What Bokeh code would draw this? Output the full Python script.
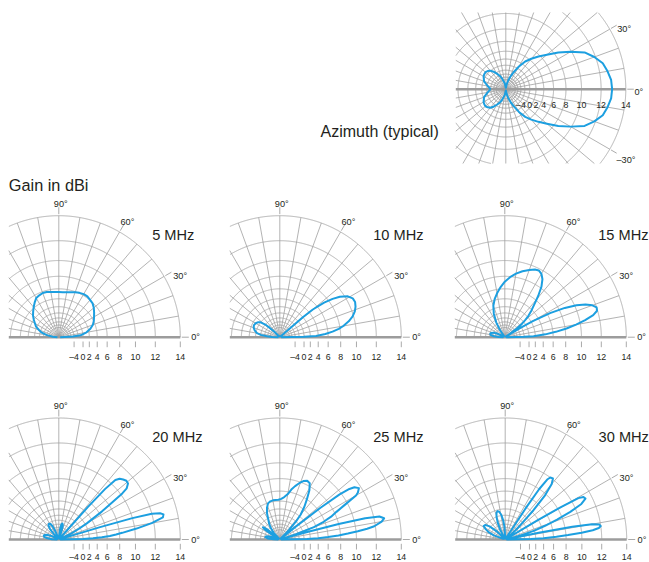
import numpy as np
from bokeh.plotting import figure
from bokeh.models import Range1d
from bokeh.core.properties import value
from bokeh.embed import file_html
from bokeh.resources import INLINE

# ---------------- data (gain in dBi) ----------------
panel_titles = ["5 MHz", "10 MHz", "15 MHz", "20 MHz", "25 MHz", "30 MHz"]

# elevation angle in degrees: 0 = horizon (main direction), 90 = zenith, 180 = back horizon
el_5_angle = [0, 2.5, 5, 10, 15, 20, 25, 30, 35, 40, 45, 50, 55, 60, 65, 70, 75, 80, 85, 90,
              95, 100, 105, 110, 115, 120, 125, 130, 135, 140, 145, 150, 155, 160, 165, 170, 175, 180]
el_5_gain = [-25, -4.7, -0.9, 1.3, 2.6, 3.5, 4.05, 4.5, 5.0, 5.5, 5.9, 6.05, 6.25, 6.25, 6.1, 5.9, 5.65, 5.5, 5.4, 5.4,
             5.45, 5.55, 5.7, 5.75, 5.6, 5.4, 4.8, 4.15, 3.5, 2.85, 2.0, 1.1, 0.3, -1.2, -2.8, -6.1, -12.1, -25]

el_10_angle = [0, 1, 2, 4, 6, 8, 10, 13, 16, 19, 22, 25, 28, 31, 34, 36, 38, 40, 41, 42,
               133, 135, 137, 139, 142, 146, 150, 155, 160, 165, 170, 173, 176, 178, 180]
el_10_gain = [-25, 0, 3.5, 5.5, 6.8, 7.8, 8.5, 9.3, 9.9, 10.3, 10.55, 10.7, 10.65, 10.3, 9.5, 8.6, 7.3, 5.0, 2.0, -25,
              -25, -10, -5, -2, 0, 0.8, 1.2, 1.4, 1.2, 0.6, -0.4, -2, -5.5, -10, -25]

el_15_angle = [0, 1, 2, 4, 6, 8, 10, 12, 14, 16, 18, 20, 22, 24, 26, 28, 30, 31, 32, 34,
               36, 38, 40, 42, 45, 48, 51, 54, 57, 60, 63, 66, 70, 75, 80, 85, 90, 95, 100, 105,
               110, 115, 120, 124, 127, 150, 154, 158, 163, 167, 171, 175, 178, 180]
el_15_gain = [-25, -2, 1.5, 4.5, 6.5, 8.2, 9.5, 10.6, 11.5, 11.95, 12.0, 11.7, 11.1, 10.2, 8.8, 6.5, 2.5, -3, -25, -12,
              -4, -1, 0.8, 2.3, 3.8, 5.2, 6.8, 8.2, 9.1, 9.6, 9.8, 9.7, 9.4, 9.0, 8.5, 7.9, 7.2, 6.3, 5.3, 4.2,
              2.8, 0.6, -3, -9, -25, -25, -10, -6, -4.5, -4.2, -4.6, -7, -12, -25]

el_20_angle = [0, 1, 2, 3, 4, 5, 6, 8, 10, 12, 13.5, 14.5, 15.5, 16.2, 16.7, 17.2, 24, 26, 28, 30,
               31, 33, 35, 36, 37, 39, 41, 43, 45, 46.5, 47.5, 48.2, 48.8, 70, 72, 74, 77, 80, 83, 85,
               110, 112, 115, 118, 122, 126, 130, 133, 135, 152, 154, 158, 162, 166, 170, 174, 177, 180]
el_20_gain = [-25, 0, 3, 5, 6.5, 7.5, 8.4, 10.2, 11.8, 12.85, 12.95, 12.7, 12.0, 10.0, 5.0, -25, -25, -5, -0.5, 2.5,
              3.7, 6.5, 8.8, 10.2, 10.9, 11.3, 11.35, 11.2, 11.0, 10.6, 9.0, 5.0, -25, -25, -8, -4.5, -3.4, -3.8, -7, -25,
              -25, -9, -4.5, -2.8, -2.3, -2.8, -5, -12, -25, -25, -10, -5.5, -4.2, -3.9, -4.4, -6.5, -11, -25]

el_25_angle = [0, 1, 2, 3, 4, 5, 6, 7, 8, 10, 11.5, 13, 14, 14.7, 15.3, 16, 16.5, 18, 20, 22,
               24, 26, 28, 30, 31, 33, 35, 36, 37, 38, 39, 40, 44, 45, 46, 48, 50, 53, 56, 59,
               62, 65, 68, 71, 74, 77, 80, 84, 88, 92, 96, 100, 104, 108, 112, 116, 120, 124, 128, 132,
               134, 138, 140, 142, 144, 146, 148, 150, 160, 163, 167, 171, 175, 178, 180]
el_25_gain = [-25, 1, 4, 6, 7.7, 9, 10.2, 11.2, 11.9, 12.6, 12.85, 12.5, 11.2, 8, 2, -25, -25, -3, 3.5, 5.8,
              7.3, 8.3, 9.6, 11.2, 11.5, 11.8, 11.5, 11.0, 9.8, 6.5, -2, -25, -25, -10, -5, 0, 2.5, 4.5, 6.0, 7.5,
              8.4, 8.55, 8.3, 7.8, 7.2, 6.5, 5.6, 4.9, 4.5, 4.3, 4.3, 4.3, 4.2, 3.9, 3.0, 1.6, -0.5, -2.1, -4.4, -8.6,
              -25, -25, -8, -3, -1.3, -2.5, -8, -25, -25, -8, -4.8, -4.4, -6, -12, -25]

el_30_angle = [0, 1, 2, 3, 4, 5, 6, 7, 8, 9, 10, 10.8, 11.5, 12.2, 12.5, 14, 15.5, 17, 19, 21,
               23, 25, 27, 28.5, 29.5, 30.2, 30.8, 31.3, 38, 40, 42, 44, 46, 48, 50, 52, 54, 55, 56, 56.7,
               57.3, 90, 93, 96, 99, 102, 105, 108, 111, 114, 117, 119, 133, 136, 140, 144, 148, 152, 156, 160,
               163, 180]
el_30_gain = [-25, 0.5, 4, 6.5, 8.3, 10, 11.2, 11.8, 12.0, 11.9, 11.2, 9, 3, -25, -25, -8, -2, 2, 4.8, 7.2,
              9.3, 10.8, 11.4, 11.3, 10.8, 8.5, 4, -25, -25, -10, -4, -0.5, 4.5, 7.8, 9.5, 10.1, 10.0, 9.6, 8, 4,
              -25, -25, -6, -2, 0.3, 1.3, 1.7, 1.3, 0, -2.5, -7, -25, -25, -6, -1.5, 0.2, 0.4, -0.8, -2.5, -6,
              -25, -25]

# azimuth pattern (degrees, 0 = main direction, positive counter-clockwise)
az_angle = [-180, -170, -160, -150, -145, -140, -135, -130, -125, -120, -115, -110, -100, -90,
            -85, -80, -75, -70, -65, -60, -55, -50, -45, -40, -35, -30, -25, -20, -15, -10, -5,
            0, 5, 10, 15, 20, 25, 30, 35, 40, 45, 50, 55, 60, 65, 70, 75, 80, 85,
            90, 100, 110, 115, 120, 125, 130, 135, 140, 145, 150, 160, 170, 180]
az_gain = [-3.9, -2.3, -0.3, 0.6, 0.8, 0.9, 0.6, 0.1, -1.0, -2.5, -4.0, -6, -12, -25,
           -25, -14, -9, -5, -2, 0.8, 3.0, 4.4, 5.7, 7.0, 8.55, 9.9, 11.2, 11.9, 12.45, 12.7, 12.9,
           12.95, 12.9, 12.7, 12.45, 11.9, 11.2, 9.9, 8.55, 7.0, 5.7, 4.4, 3.0, 0.8, -2, -5, -9, -14, -25,
           -25, -12, -6, -4.0, -2.5, -1.0, 0.1, 0.6, 0.9, 0.8, 0.6, -0.3, -2.3, -3.9]

gain_ticks = [-4, 0, 2, 4, 6, 8, 10, 12, 14]
gain_tick_labels = ["–4", "0", "2", "4", "6", "8", "10", "12", "14"]
grid_circles_db = [-8, -6, -4, -2, 0, 2, 4, 6, 8, 10, 12, 14]
el_angle_labels = ["90°", "60°", "30°", "0°"]
az_angle_labels = ["30°", "0°", "–30°"]
y_title = "Gain in dBi"
az_title = "Azimuth (typical)"

el_series = [(el_5_angle, el_5_gain), (el_10_angle, el_10_gain), (el_15_angle, el_15_gain),
             (el_20_angle, el_20_gain), (el_25_angle, el_25_gain), (el_30_angle, el_30_gain)]

# ---------------- layout & style ----------------
W, H = 649, 562
R_EL, R_AZ = 121.5, 120.0
MAX_DB = 14.0
CLIP_LEFT = 50.0
el_centers = [(58.3, 336.7), (279.3, 336.7), (504.3, 336.7),
              (58.3, 539.0), (279.3, 539.0), (504.7, 539.0)]
az_center = (505.3, 88.7)
AZ_TOP, AZ_BOTTOM = 76.7, 74.3

BLUE = "#1c9fe0"
GRID = "#a0a0a0"
BASE = "#9c9c9c"
TEXT = "#231f20"
FONT = "Liberation Sans"

p = figure(width=W, height=H, x_range=Range1d(0, W), y_range=Range1d(-H, 0),
           output_backend="svg", toolbar_location=None, x_axis_type=None, y_axis_type=None,
           min_border=0)
p.outline_line_color = None
p.grid.visible = False
p.background_fill_color = "white"
p.border_fill_color = "white"


def rad(g, R):
    return R * 10 ** ((np.asarray(g, dtype=float) - MAX_DB) / 20.0)


def runs(x, y, mask):
    out = []
    idx = np.where(mask)[0]
    if len(idx) == 0:
        return out
    splits = np.where(np.diff(idx) > 1)[0] + 1
    for grp in np.split(idx, splits):
        if len(grp) > 1:
            out.append((x[grp].tolist(), y[grp].tolist()))
    return out


grid_xs, grid_ys = [], []
base_xs, base_ys = [], []
tick_xs, tick_ys = [], []


def add_grid(cx, cy, R, th0, th1, dy_max, dy_min, spokes):
    xmin = cx - CLIP_LEFT
    th = np.radians(np.linspace(th0, th1, int((th1 - th0) * 4) + 1))
    for db in grid_circles_db:
        r = float(rad(db, R))
        dx = r * np.cos(th)
        dy = r * np.sin(th)
        mask = (cx + dx >= xmin - 1e-9) & (dy <= dy_max) & (dy >= dy_min)
        for sx, sy in runs(cx + dx, -cy + dy, mask):
            grid_xs.append(sx)
            grid_ys.append(sy)
    for a in spokes:
        c, s_ = np.cos(np.radians(a)), np.sin(np.radians(a))
        rend = R
        if c < -1e-9:
            rend = min(rend, (xmin - cx) / c)
        if s_ > 1e-9:
            rend = min(rend, dy_max / s_)
        if s_ < -1e-9:
            rend = min(rend, dy_min / s_)
        grid_xs.append([cx, cx + rend * c])
        grid_ys.append([-cy, -cy + rend * s_])
    base_xs.append([xmin, cx + R])
    base_ys.append([-cy, -cy])


# elevation panels: grid, baseline, ticks, leaders
for (cx, cy) in el_centers:
    add_grid(cx, cy, R_EL, 0, 180, 1e9, 0, list(range(10, 180, 10)))
    for v in gain_ticks:
        x = cx + float(rad(v, R_EL))
        tick_xs.append([x, x])
        tick_ys.append([-(cy + 4.3), -(cy + 10.0)])
    for a in [0, 30, 60, 90]:
        c, s_ = np.cos(np.radians(a)), np.sin(np.radians(a))
        tick_xs.append([cx + 123 * c, cx + 130 * c])
        tick_ys.append([-cy + 123 * s_, -cy + 130 * s_])

# azimuth grid
acx, acy = az_center
add_grid(acx, acy, R_AZ, 0, 360, AZ_TOP, -AZ_BOTTOM, [a for a in range(0, 360, 10) if a not in (0, 180)])
for a in [30, 0, -30]:
    c, s_ = np.cos(np.radians(a)), np.sin(np.radians(a))
    tick_xs.append([acx + 121.5 * c, acx + 128 * c])
    tick_ys.append([-acy + 121.5 * s_, -acy + 128 * s_])

p.multi_line(grid_xs, grid_ys, line_color=GRID, line_width=0.8)
p.multi_line(base_xs, base_ys, line_color=BASE, line_width=2.4)
p.multi_line(tick_xs, tick_ys, line_color=GRID, line_width=0.9)

# patterns
for (cx, cy), (ang, g) in zip(el_centers, el_series):
    r = rad(g, R_EL)
    t = np.radians(ang)
    p.line(cx + r * np.cos(t), -cy + r * np.sin(t), line_color=BLUE, line_width=2.0, line_join="round")

r = rad(az_gain, R_AZ)
t = np.radians(az_angle)
p.line(acx + r * np.cos(t), -acy + r * np.sin(t), line_color=BLUE, line_width=2.0, line_join="round")


def add_text(xs, ys, texts, size, align="left"):
    p.text(x=xs, y=ys, text=texts, text_font=value(FONT), text_font_size=f"{size:.2f}px",
           text_align=align, text_baseline="alphabetic", text_color=TEXT)


tx, ty, tt = [], [], []
ax_, ay_, at_ = [], [], []
hx, hy, ht = [], [], []
el_label_off = [(-5.0, -133.4), (61.7, -115.0), (114.4, -61.7), (132.4, 0.0)]
for (cx, cy), title in zip(el_centers, panel_titles):
    label_base = min(cy + 20.0, H - 5.5)
    for v, lab in zip(gain_ticks, gain_tick_labels):
        tx.append(cx + float(rad(v, R_EL)))
        ty.append(-label_base)
        tt.append(lab)
    for (dx, dy), lab in zip(el_label_off, el_angle_labels):
        ax_.append(cx + dx)
        ay_.append(-(cy + dy))
        at_.append(lab)
    hx.append(cx + 93.4)
    hy.append(-(cy - 102.5))
    ht.append(title)

az_tx, az_ty, az_tt = [], [], []
for v, lab in zip(gain_ticks, gain_tick_labels):
    az_tx.append(acx + float(rad(v, R_AZ)))
    az_ty.append(-(acy + 15.3))
    az_tt.append(lab)
az_label_off = [(111.4, -60.4), (128.7, 3.0), (110.7, 70.6)]
for (dx, dy), lab in zip(az_label_off, az_angle_labels):
    ax_.append(acx + dx)
    ay_.append(-(acy + dy))
    at_.append(lab)

add_text(tx + az_tx, ty + az_ty, tt + az_tt, 8.8, align="center")
add_text(ax_, ay_, at_, 9.2)
add_text(hx, hy, ht, 14.6)
add_text([8.3], [-184.0], [y_title], 16.3)
add_text([320.0], [-130.7], [az_title], 16.0)

open("out.html", "w").write(file_html(p, INLINE))
